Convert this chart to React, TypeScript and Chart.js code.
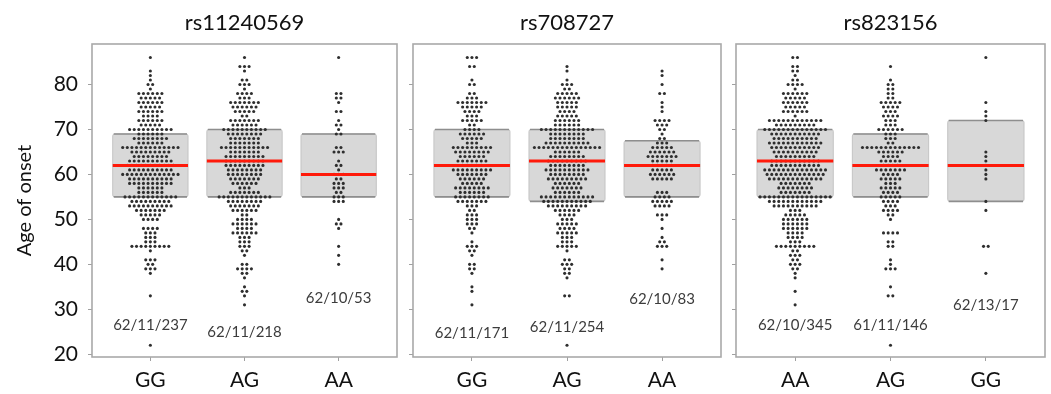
import React, { useEffect, useRef } from 'react';
import { Chart, registerables } from 'chart.js';

Chart.register(...registerables);

// ---------- DATA ----------
// Ages (rows of the dot plot), from 86 down to 22
const AGES = [
  86, 85, 84, 83, 82, 81, 80, 79, 78, 77, 76, 75, 74, 73, 72, 71, 70, 69, 68, 67,
  66, 65, 64, 63, 62, 61, 60, 59, 58, 57, 56, 55, 54, 53, 52, 51, 50, 49, 48, 47,
  46, 45, 44, 43, 42, 41, 40, 39, 38, 37, 36, 35, 34, 33, 32, 31, 30, 29, 28, 27,
  26, 25, 24, 23, 22,
];

const TITLES = ['rs11240569', 'rs708727', 'rs823156'];
const CATS_1 = ['GG', 'AG', 'AA'];
const CATS_2 = ['GG', 'AG', 'AA'];
const CATS_3 = ['AA', 'AG', 'GG'];
const Y_TICKS = [20, 30, 40, 50, 60, 70, 80];
const Y_TITLE = 'Age of onset';

// number of patients at each age (aligned with AGES)
const P1_GG = [1,0,0,1,1, 1,2,1,6,5, 6,5,6,4,6, 5,10,6,8,6, 13,9,8,10,11, 10,13,10,10,6, 6,12,9,10,7, 5,4,0,4,3, 3,3,9,1,0, 3,2,3,1,0, 0,0,0,1,0, 0,0,0,0,0, 0,0,0,0,1];
const P1_AG = [1,0,3,1,0, 2,3,1,4,3, 7,6,5,2,7, 6,10,8,7,7, 11,7,9,9,9, 8,8,7,6,3, 7,12,8,7,6, 2,4,6,4,6, 3,3,3,2,1, 0,2,4,2,1, 0,1,2,1,0, 1,0,0,0,0, 0,0,0,0,0];
const P1_AA = [1,0,0,0,0, 0,0,0,2,2, 1,0,2,0,1, 2,1,2,0,0, 2,3,0,1,2, 1,3,2,3,3, 2,3,3,0,0, 0,1,2,1,0, 0,0,1,0,1, 0,1,0,0,0, 0,0,0,0,0, 0,0,0,0,0, 0,0,0,0,0];

const P2_GG = [3,0,2,0,0, 1,2,0,2,3, 7,5,4,3,5, 2,4,6,5,3, 9,8,6,7,5, 9,7,6,5,8, 6,8,7,3,2, 3,3,3,2,1, 0,1,3,2,1, 0,2,2,1,0, 0,1,1,0,0, 1,0,0,0,0, 0,0,0,0,0];
const P2_AG = [0,0,1,1,0, 1,3,2,5,6, 5,5,4,5,6, 6,12,8,8,10, 15,6,8,9,8, 10,8,9,6,7, 6,12,11,9,6, 4,3,5,4,5, 3,3,5,1,0, 2,3,2,2,1, 0,0,0,2,0, 0,0,0,0,0, 0,0,0,0,1];
const P2_AA = [0,0,0,1,1, 0,1,0,2,0, 1,1,1,0,4, 3,2,1,2,3, 5,6,7,5,5, 5,6,5,0,0, 3,4,5,4,0, 3,1,0,1,0, 1,2,3,0,0, 1,0,1,0,0, 0,0,0,0,0, 0,0,0,0,0, 0,0,0,0,0];

const P3_AA = [2,0,2,2,1, 2,4,1,6,5, 6,5,6,1,12, 9,14,11,10,12, 11,10,9,11,11, 14,13,12,7,8, 7,16,12,10,3, 5,6,6,6,4, 4,3,9,2,3, 2,3,2,1,1, 0,0,1,0,0, 1,0,0,0,0, 0,0,0,0,0];
const P3_AG = [0,0,1,0,0, 1,2,2,2,2, 5,4,3,4,3, 3,6,3,3,2, 13,6,4,5,4, 7,4,5,3,5, 4,5,4,3,4, 2,1,0,0,4, 0,2,2,0,0, 1,1,3,0,0, 0,1,0,2,0, 0,0,0,0,0, 0,0,0,0,1];
const P3_GG = [1,0,0,0,0, 0,0,0,0,0, 1,0,1,1,1, 0,0,0,0,0, 0,1,1,1,1, 1,1,1,0,0, 0,0,1,0,1, 0,0,0,0,0, 0,0,2,0,0, 0,0,0,1,0, 0,0,0,0,0, 0,0,0,0,0, 0,0,0,0,0];

// box statistics (lower quartile, median, upper quartile)
const P1_Q1 = [55, 55, 55];
const P1_MED = [62, 63, 60];
const P1_Q3 = [69, 70, 69];
const P2_Q1 = [55, 54, 55];
const P2_MED = [62, 63, 62];
const P2_Q3 = [70, 70, 67.5];
const P3_Q1 = [55, 55, 54];
const P3_MED = [63, 62, 62];
const P3_Q3 = [70, 69, 72];

// group annotations (median / sd / n)
const P1_NOTES = ['62/11/237', '62/11/218', '62/10/53'];
const P2_NOTES = ['62/11/171', '62/11/254', '62/10/83'];
const P3_NOTES = ['62/10/345', '61/11/146', '62/13/17'];

// ---------- LAYOUT / STYLE ----------
const NOTE_Y_1 = [26.4, 24.9, 32.5];
const NOTE_Y_2 = [24.6, 26.1, 32.2];
const NOTE_Y_3 = [26.4, 26.4, 31.0];
const DOT_STEP = 0.049;
const BOX_HALF = 0.4;
const FONT = 'Lato, "Open Sans", sans-serif';

type PanelDef = {
  title: string;
  cats: string[];
  counts: number[][];
  q1: number[];
  med: number[];
  q3: number[];
  notes: string[];
  noteY: number[];
  left: number;
  width: number;
  yWidth: number;
  padRight: number;
  showY: boolean;
};

const PANELS: PanelDef[] = [
  { title: TITLES[0], cats: CATS_1, counts: [P1_GG, P1_AG, P1_AA], q1: P1_Q1, med: P1_MED, q3: P1_Q3, notes: P1_NOTES, noteY: NOTE_Y_1, left: 0, width: 400, yWidth: 92, padRight: 3, showY: true },
  { title: TITLES[1], cats: CATS_2, counts: [P2_GG, P2_AG, P2_AA], q1: P2_Q1, med: P2_MED, q3: P2_Q3, notes: P2_NOTES, noteY: NOTE_Y_2, left: 400, width: 325, yWidth: 13, padRight: 4, showY: false },
  { title: TITLES[2], cats: CATS_3, counts: [P3_AA, P3_AG, P3_GG], q1: P3_Q1, med: P3_MED, q3: P3_Q3, notes: P3_NOTES, noteY: NOTE_Y_3, left: 725, width: 326, yWidth: 11, padRight: 6, showY: false },
];

function swarm(counts: number[], cat: number) {
  const pts: { x: number; y: number }[] = [];
  counts.forEach((n, i) => {
    for (let j = 0; j < n; j++) {
      pts.push({ x: cat + (j - (n - 1) / 2) * DOT_STEP, y: AGES[i] });
    }
  });
  return pts;
}

function Panel({ def }: { def: PanelDef }) {
  const ref = useRef<HTMLCanvasElement | null>(null);
  useEffect(() => {
    if (!ref.current) return;
    const panelPlugin = {
      id: 'panelDeco',
      beforeDatasetsDraw(chart: any) {
        const { ctx, scales } = chart;
        const xs = scales.x, ys = scales.y;
        ctx.save();
        def.q1.forEach((q1, i) => {
          const x1 = xs.getPixelForValue(i + 1 - BOX_HALF);
          const x2 = xs.getPixelForValue(i + 1 + BOX_HALF);
          const yTop = ys.getPixelForValue(def.q3[i]);
          const yBot = ys.getPixelForValue(q1);
          ctx.fillStyle = '#d8d8d8';
          ctx.beginPath();
          ctx.roundRect(x1, yTop, x2 - x1, yBot - yTop, 2);
          ctx.fill();
          ctx.strokeStyle = '#c4c4c4';
          ctx.lineWidth = 1;
          ctx.stroke();
          ctx.strokeStyle = '#8e8e8e';
          ctx.lineWidth = 1.6;
          ctx.beginPath();
          ctx.moveTo(x1 + 1, yTop);
          ctx.lineTo(x2 - 1, yTop);
          ctx.moveTo(x1 + 1, yBot);
          ctx.lineTo(x2 - 1, yBot);
          ctx.stroke();
        });
        ctx.restore();
      },
      afterDatasetsDraw(chart: any) {
        const { ctx, scales, chartArea } = chart;
        const xs = scales.x, ys = scales.y;
        ctx.save();
        // medians
        def.med.forEach((m, i) => {
          const x1 = xs.getPixelForValue(i + 1 - BOX_HALF);
          const x2 = xs.getPixelForValue(i + 1 + BOX_HALF);
          const y = ys.getPixelForValue(m);
          ctx.strokeStyle = '#ff1a0a';
          ctx.lineWidth = 3;
          ctx.beginPath();
          ctx.moveTo(x1, y);
          ctx.lineTo(x2, y);
          ctx.stroke();
        });
        // notes
        ctx.fillStyle = '#3c3c3c';
        ctx.font = `15px ${FONT}`;
        ctx.textAlign = 'center';
        ctx.textBaseline = 'middle';
        def.notes.forEach((t, i) => {
          ctx.fillText(t, xs.getPixelForValue(i + 1), ys.getPixelForValue(def.noteY[i]));
        });
        // panel frame
        ctx.strokeStyle = '#a9a9a9';
        ctx.lineWidth = 1.6;
        ctx.strokeRect(chartArea.left, chartArea.top, chartArea.right - chartArea.left, chartArea.bottom - chartArea.top);
        // title
        ctx.fillStyle = '#111';
        ctx.font = `22px ${FONT}`;
        ctx.fillText(def.title, (chartArea.left + chartArea.right) / 2, 22.5);
        ctx.restore();
      },
    };

    const chart = new Chart(ref.current, {
      type: 'scatter',
      data: {
        datasets: def.counts.map((c, gi) => ({
          label: def.cats[gi],
          data: swarm(c, gi + 1),
          pointRadius: 1.55,
          pointHoverRadius: 1.55,
          pointBorderWidth: 0,
          pointBackgroundColor: '#2e2e2e',
          pointBorderColor: '#2e2e2e',
        })),
      },
      options: {
        animation: false,
        responsive: false,
        events: [],
        layout: { padding: { top: 44, right: def.padRight, left: 0, bottom: 0 } },
        plugins: {
          legend: { display: false },
          tooltip: { enabled: false },
          title: { display: false },
        },
        scales: {
          x: {
            type: 'linear',
            min: 0.38,
            max: 3.62,
            afterBuildTicks: (s: any) => {
              s.ticks = def.cats.map((_, i) => ({ value: i + 1 }));
            },
            afterFit: (s: any) => {
              s.height = 37;
            },
            ticks: {
              autoSkip: false,
              maxRotation: 0,
              padding: 7,
              color: '#111',
              font: { family: FONT, size: 21 },
              callback: (v: any) => def.cats[Math.round(Number(v)) - 1] ?? '',
            },
            grid: { drawOnChartArea: false, drawTicks: true, tickLength: 4, tickColor: '#a0a0a0' },
            border: { display: false },
          },
          y: {
            type: 'linear',
            min: 19.4,
            max: 89,
            afterBuildTicks: (s: any) => {
              s.ticks = Y_TICKS.map((v) => ({ value: v }));
            },
            afterFit: (s: any) => {
              s.width = def.yWidth;
            },
            ticks: {
              display: def.showY,
              padding: 10,
              color: '#111',
              font: { family: FONT, size: 21 },
            },
            grid: { drawOnChartArea: false, drawTicks: true, tickLength: 4, tickColor: '#a0a0a0' },
            border: { display: false },
            title: {
              display: def.showY,
              text: Y_TITLE,
              color: '#111',
              font: { family: FONT, size: 20 },
              padding: { top: 13, bottom: 0 },
            },
          },
        },
      },
      plugins: [panelPlugin],
    } as any);
    return () => chart.destroy();
  }, [def]);

  return (
    <canvas
      ref={ref}
      width={def.width}
      height={394}
      style={{ position: 'absolute', left: def.left, top: 0, width: def.width, height: 394 }}
    />
  );
}

export default function App() {
  return (
    <div style={{ position: 'fixed', left: 0, top: 0, width: 1051, height: 394, background: '#fff' }}>
      {PANELS.map((p, i) => (
        <Panel key={i} def={p} />
      ))}
    </div>
  );
}
